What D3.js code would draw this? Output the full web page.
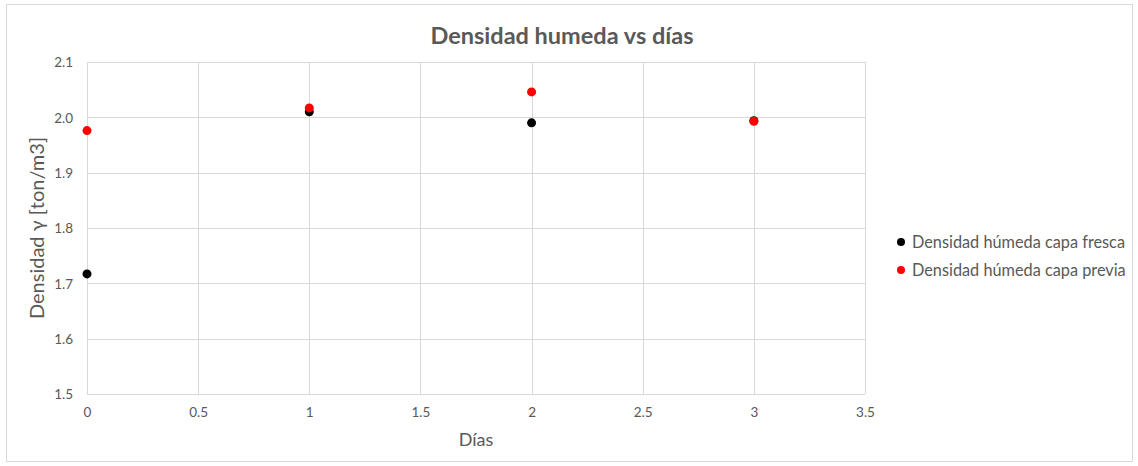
<!DOCTYPE html>
<html lang="en">
<head>
<meta charset="utf-8">
<title>Densidad humeda vs días</title>
<script src="https://d3js.org/d3.v7.min.js"></script>
<style>
    body{ margin:0; background:#fff; font-family:Lato, "Open Sans", sans-serif; }
    .grid line{ stroke:#d9d9d9; }
    .tick text{ fill:#595959; font-size:13.5px; font-family:Lato, "Open Sans", sans-serif; }
</style>
</head>
<body>
<div id="chart"></div>
<script>
// valores
var dias = [0, 1, 2, 3]
var fresca = [1.717, 2.010, 1.990, 1.994]
var previa = [1.976, 2.017, 2.046, 1.993]
var xTicks = [0, 0.5, 1, 1.5, 2, 2.5, 3, 3.5]
var yTicks = [1.5, 1.6, 1.7, 1.8, 1.9, 2.0, 2.1]
var seriesNames = ["Densidad húmeda capa fresca", "Densidad húmeda capa previa"]
var seriesColors = ["#000000", "#ff0000"]

var W = 1138, H = 466
var mLeft = 87, mRight = 865, mTop = 62, mBottom = 394

var svg = d3.select("#chart").append("svg").attr("width", W).attr("height", H)

svg.append("rect").attr("x", 6.5).attr("y", 4.5).attr("width", 1126).attr("height", 457)
    .attr("fill", "#fff").attr("stroke", "#d9d9d9")

var x = d3.scaleLinear().domain([0, 3.5]).range([mLeft, mRight])
var y = d3.scaleLinear().domain([1.5, 2.1]).range([mBottom, mTop])

// grid
var g = svg.append("g").attr("class", "grid")
g.selectAll(".gx").data(xTicks).enter().append("line")
    .attr("x1", d => Math.round(x(d)) + 0.5).attr("x2", d => Math.round(x(d)) + 0.5)
    .attr("y1", mTop).attr("y2", mBottom)
g.selectAll(".gy").data(yTicks).enter().append("line")
    .attr("y1", d => Math.round(y(d)) + 0.5).attr("y2", d => Math.round(y(d)) + 0.5)
    .attr("x1", mLeft).attr("x2", mRight)

// ejes
var xAxis = svg.append("g").attr("transform", "translate(0," + (mBottom + 8) + ")")
    .call(d3.axisBottom(x).tickValues(xTicks).tickSize(0).tickFormat(d3.format("")))
xAxis.select(".domain").remove()
xAxis.selectAll("text").attr("dy", "0.9em")

var yAxis = svg.append("g").attr("transform", "translate(" + (mLeft - 11) + ",0)")
    .call(d3.axisLeft(y).tickValues(yTicks).tickSize(0).tickFormat(d3.format(".1f")))
yAxis.select(".domain").remove()
yAxis.selectAll("text").attr("dy", "0.35em")

// puntos
var all = [fresca, previa]
all.forEach(function(vals, s){
    svg.append("g").selectAll("circle").data(vals).enter().append("circle")
        .attr("cx", (d, i) => x(dias[i]))
        .attr("cy", d => y(d))
        .attr("r", 4.5)
        .attr("fill", seriesColors[s])
})

// titulos
svg.append("text").attr("x", 562).attr("y", 44).attr("text-anchor", "middle")
    .attr("fill", "#595959").style("font-size", "23.5px").style("font-weight", "bold")
    .text("Densidad humeda vs días")

svg.append("text").attr("x", (mLeft + mRight) / 2).attr("y", 446).attr("text-anchor", "middle")
    .attr("fill", "#595959").style("font-size", "18px").text("Días")

svg.append("text").attr("transform", "translate(44," + (mTop + mBottom) / 2 + ") rotate(-90)")
    .attr("text-anchor", "middle").attr("fill", "#595959").style("font-size", "20px")
    .text("Densidad γ [ton/m3]")

// leyenda
var leg = svg.append("g").selectAll("g").data(seriesNames).enter().append("g")
    .attr("transform", (d, i) => "translate(901," + (242 + i * 28) + ")")
leg.append("circle").attr("r", 4).attr("fill", (d, i) => seriesColors[i])
leg.append("text").attr("x", 11).attr("dy", "0.35em").attr("fill", "#595959")
    .style("font-size", "16.3px").text(d => d)
</script>
</body>
</html>
